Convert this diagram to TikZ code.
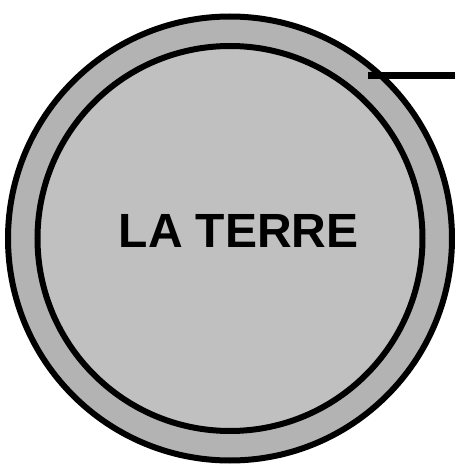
\documentclass[tikz,border=0pt]{standalone}
\usepackage{fontspec}
\setmainfont{Liberation Sans}
\definecolor{ringgray}{HTML}{B3B3B3}
\definecolor{coregray}{HTML}{C0C0C0}
\tikzset{
  layer/.style={circle, draw=black, line width=6pt, inner sep=0pt},
  leader/.style={draw=black, line width=7pt},
  title/.style={font=\bfseries\fontsize{48}{48}\selectfont, inner sep=0pt}
}
\begin{document}
\begin{tikzpicture}[x=1pt,y=1pt]
\useasboundingbox (0,0) rectangle (455,467);
\node[layer, fill=ringgray, minimum size=444pt] (outer) at (230,228.5) {};
\node[layer, fill=coregray, minimum size=385pt] (inner) at (230,228.5) {};
\node[title, anchor=base] (label) at (238.7,219.3) {LA TERRE};
\coordinate (lstart) at (368,391);
\coordinate (lend) at (455,391);
\draw[leader] (lstart) -- (lend);
\end{tikzpicture}
\end{document}
